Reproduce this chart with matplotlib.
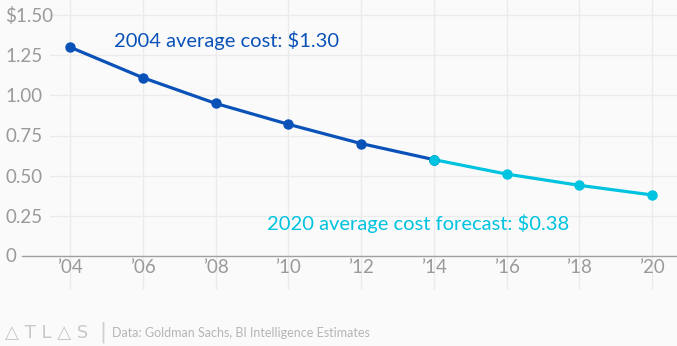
import matplotlib.pyplot as plt

years = [2004, 2006, 2008, 2010, 2012, 2014]
costs = [1.30, 1.11, 0.95, 0.82, 0.70, 0.60]
fc_years = [2014, 2016, 2018, 2020]
fc_costs = [0.60, 0.51, 0.44, 0.38]
x_ticks = [2004, 2006, 2008, 2010, 2012, 2014, 2016, 2018, 2020]
x_labels = ["\u201904", "\u201906", "\u201908", "\u201910", "\u201912",
            "\u201914", "\u201916", "\u201918", "\u201920"]
y_ticks = [0, 0.25, 0.5, 0.75, 1.0, 1.25, 1.5]
y_labels = ["0", "0.25", "0.50", "0.75", "1.00", "1.25", "$1.50"]

BG = "#fafafa"
DARK = "#0a52b8"
CYAN = "#00c3e0"
GRAY = "#9a9a9a"

plt.rcParams["font.family"] = ["Lato", "DejaVu Sans"]

fig = plt.figure(figsize=(6.77, 3.46), dpi=100, facecolor=BG)
W, H = 677, 346
# axes in pixel coords: left 50, right 677, top 0, bottom 290
ax = fig.add_axes([50 / W, (H - 290) / H, 627 / W, 290 / H], facecolor=BG)

px_per_yr = (652 - 70) / 16
ax.set_xlim(2004 - 20 / px_per_yr, 2020 + 25 / px_per_yr)
px_per_unit = (256 - 15) / 1.5
ax.set_ylim(-(290 - 256) / px_per_unit, 256 / px_per_unit)

ax.set_xticks(x_ticks)
ax.set_xticklabels(x_labels)
ax.set_yticks(y_ticks[1:])
ax.set_yticklabels(y_labels[1:])
ax.tick_params(axis="both", length=0, colors=GRAY, labelsize=13.5)
ax.tick_params(axis="x", pad=-22)
ax.tick_params(axis="y", pad=32)
for lab in ax.get_yticklabels():
    lab.set_horizontalalignment("left")
ax.text(-45 / 627, 0, "0", transform=ax.get_yaxis_transform(), color=GRAY,
        fontsize=13.5, ha="left", va="center")

ax.grid(True, color="#ebebeb", linewidth=1)
ax.set_axisbelow(True)
for s in ax.spines.values():
    s.set_visible(False)

ax.axhline(0, xmin=-28 / 627, xmax=1, color="#a0a0a0", linewidth=1, clip_on=False)

ax.plot(fc_years, fc_costs, color=CYAN, linewidth=2.3, marker="o",
        markersize=6.5, zorder=3)
ax.plot(years, costs, color=DARK, linewidth=2.3, marker="o",
        markersize=6.5, zorder=4)
ax.plot(years[-1], costs[-1], color=CYAN, marker="o", markersize=6.5, zorder=5)

ax.text(2005.2, 1.344, "2004 average cost: $1.30", color=DARK, fontsize=14.5,
        ha="left", va="center")
ax.text(2009.42, 0.205, "2020 average cost forecast: $0.38", color=CYAN,
        fontsize=14.5, ha="left", va="center")

# footer
fig.text(5 / W, 1 - 333 / H, "\u25b3 T L \u25b3 S", color="#c8c8c8", fontsize=13,
         ha="left", va="center", family=["DejaVu Sans"])
fig.text(99 / W, 1 - 332 / H, "|", color="#d0d0d0", fontsize=15,
         ha="left", va="center", family=["DejaVu Sans"])
fig.text(112 / W, 1 - 333 / H, "Data: Goldman Sachs, BI Intelligence Estimates",
         color="#b5b5b5", fontsize=9, ha="left", va="center")

fig.savefig("out.png", dpi=100, facecolor=BG)
